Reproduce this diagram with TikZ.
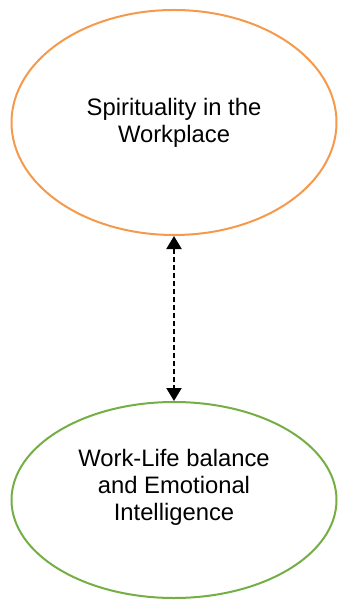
\documentclass[tikz,border=0pt]{standalone}
\usepackage{fontspec}
\setmainfont{Liberation Sans}
\usetikzlibrary{arrows.meta,shapes.geometric}
\definecolor{topline}{HTML}{F59A4C}
\definecolor{bottomline}{HTML}{74AE44}
\begin{document}
\begin{tikzpicture}[
x=1pt,y=-1pt,
every node/.style={align=center,font=\fontsize{23.8}{27}\selectfont},
oval/.style={ellipse,draw,line width=2pt,inner sep=0pt,minimum width=325pt}
]
\useasboundingbox (0,0) rectangle (337,601);
\node[oval,draw=topline,minimum height=225pt](spirit) at (174,122.5){Spirituality in the\\Workplace};
\node[oval,draw=bottomline,minimum height=196pt](balance) at (174,500){};
\node(balancetext) at (174,487){Work-Life balance\\and Emotional\\Intelligence};
\draw[{Triangle[length=13pt,width=15pt]}-{Triangle[length=13pt,width=15pt]},line width=2pt,dash pattern=on 5pt off 3pt] (spirit)--(balance);
\end{tikzpicture}
\end{document}
